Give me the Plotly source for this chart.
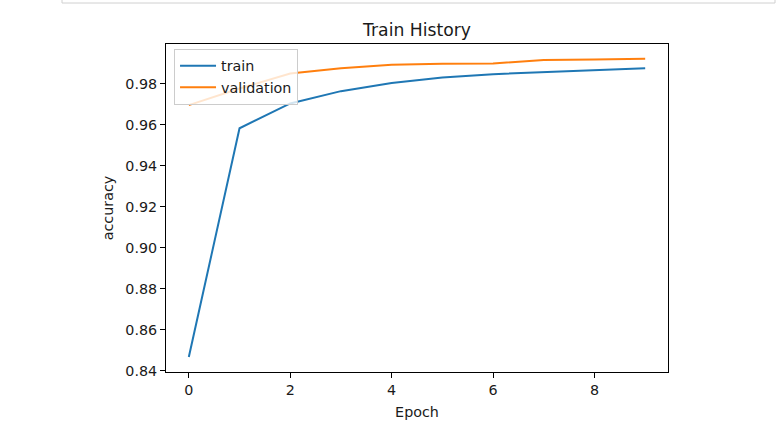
import plotly.graph_objects as go

epochs = [0, 1, 2, 3, 4, 5, 6, 7, 8, 9]
train_acc = [0.8468, 0.9584, 0.9705, 0.9765, 0.9805, 0.9832, 0.9848, 0.9858, 0.9866, 0.9877]
val_acc = [0.9697, 0.9778, 0.9851, 0.9877, 0.9894, 0.9899, 0.9900, 0.9917, 0.9920, 0.9923]
y_ticks = [0.84, 0.86, 0.88, 0.90, 0.92, 0.94, 0.96, 0.98]
x_ticks = [0, 2, 4, 6, 8]

FONT = "DejaVu Sans"
TXT = "#1a1a1a"
FS = 14.3

W, H = 782, 432
ML, MT, MR, MB = 166, 44, 114, 60

fig = go.Figure()
fig.add_trace(go.Scatter(x=epochs, y=train_acc, mode="lines", name="train",
                         line=dict(color="#1f77b4", width=2)))
fig.add_trace(go.Scatter(x=epochs, y=val_acc, mode="lines", name="validation",
                         line=dict(color="#ff7f0e", width=2)))

axis_common = dict(showline=True, linecolor="black", linewidth=1, mirror=True,
                   ticks="outside", ticklen=5, tickwidth=1, tickcolor="black",
                   showgrid=False, zeroline=False,
                   tickfont=dict(family=FONT, size=FS, color=TXT))

fig.update_layout(
    width=W, height=H,
    margin=dict(l=ML, r=MR, t=MT, b=MB),
    paper_bgcolor="white", plot_bgcolor="white",
    font=dict(family=FONT, color=TXT),
    title=dict(text="Train History", x=417 / W, xanchor="center",
               y=1 - 30 / H, yanchor="middle",
               font=dict(family=FONT, size=17.2, color=TXT)),
    xaxis=dict(range=[-0.45, 9.45], tickvals=x_ticks,
               title=dict(text="Epoch", font=dict(family=FONT, size=FS, color=TXT), standoff=9),
               **axis_common),
    yaxis=dict(range=[0.8395, 0.9995], tickvals=y_ticks, tickformat=".2f",
               title=dict(text="accuracy", font=dict(family=FONT, size=FS, color=TXT), standoff=8),
               **axis_common),
    legend=dict(x=0.016, y=0.985, xanchor="left", yanchor="top",
                bgcolor="rgba(255,255,255,0.8)", bordercolor="#cccccc", borderwidth=1,
                font=dict(family=FONT, size=FS, color=TXT),
                itemwidth=36),
    showlegend=True,
    shapes=[dict(type="rect", xref="paper", yref="paper",
                 x0=(62 - ML) / 502, x1=(775 - ML) / 502,
                 y0=(372 - 3) / 328, y1=(372 + 20) / 328,
                 line=dict(color="#d0d0d0", width=1), fillcolor="rgba(0,0,0,0)", layer="above")],
)

fig.write_html("out.html", config={"displayModeBar": False},
               post_script="document.body.style.margin='0';document.body.style.overflow='hidden';")
